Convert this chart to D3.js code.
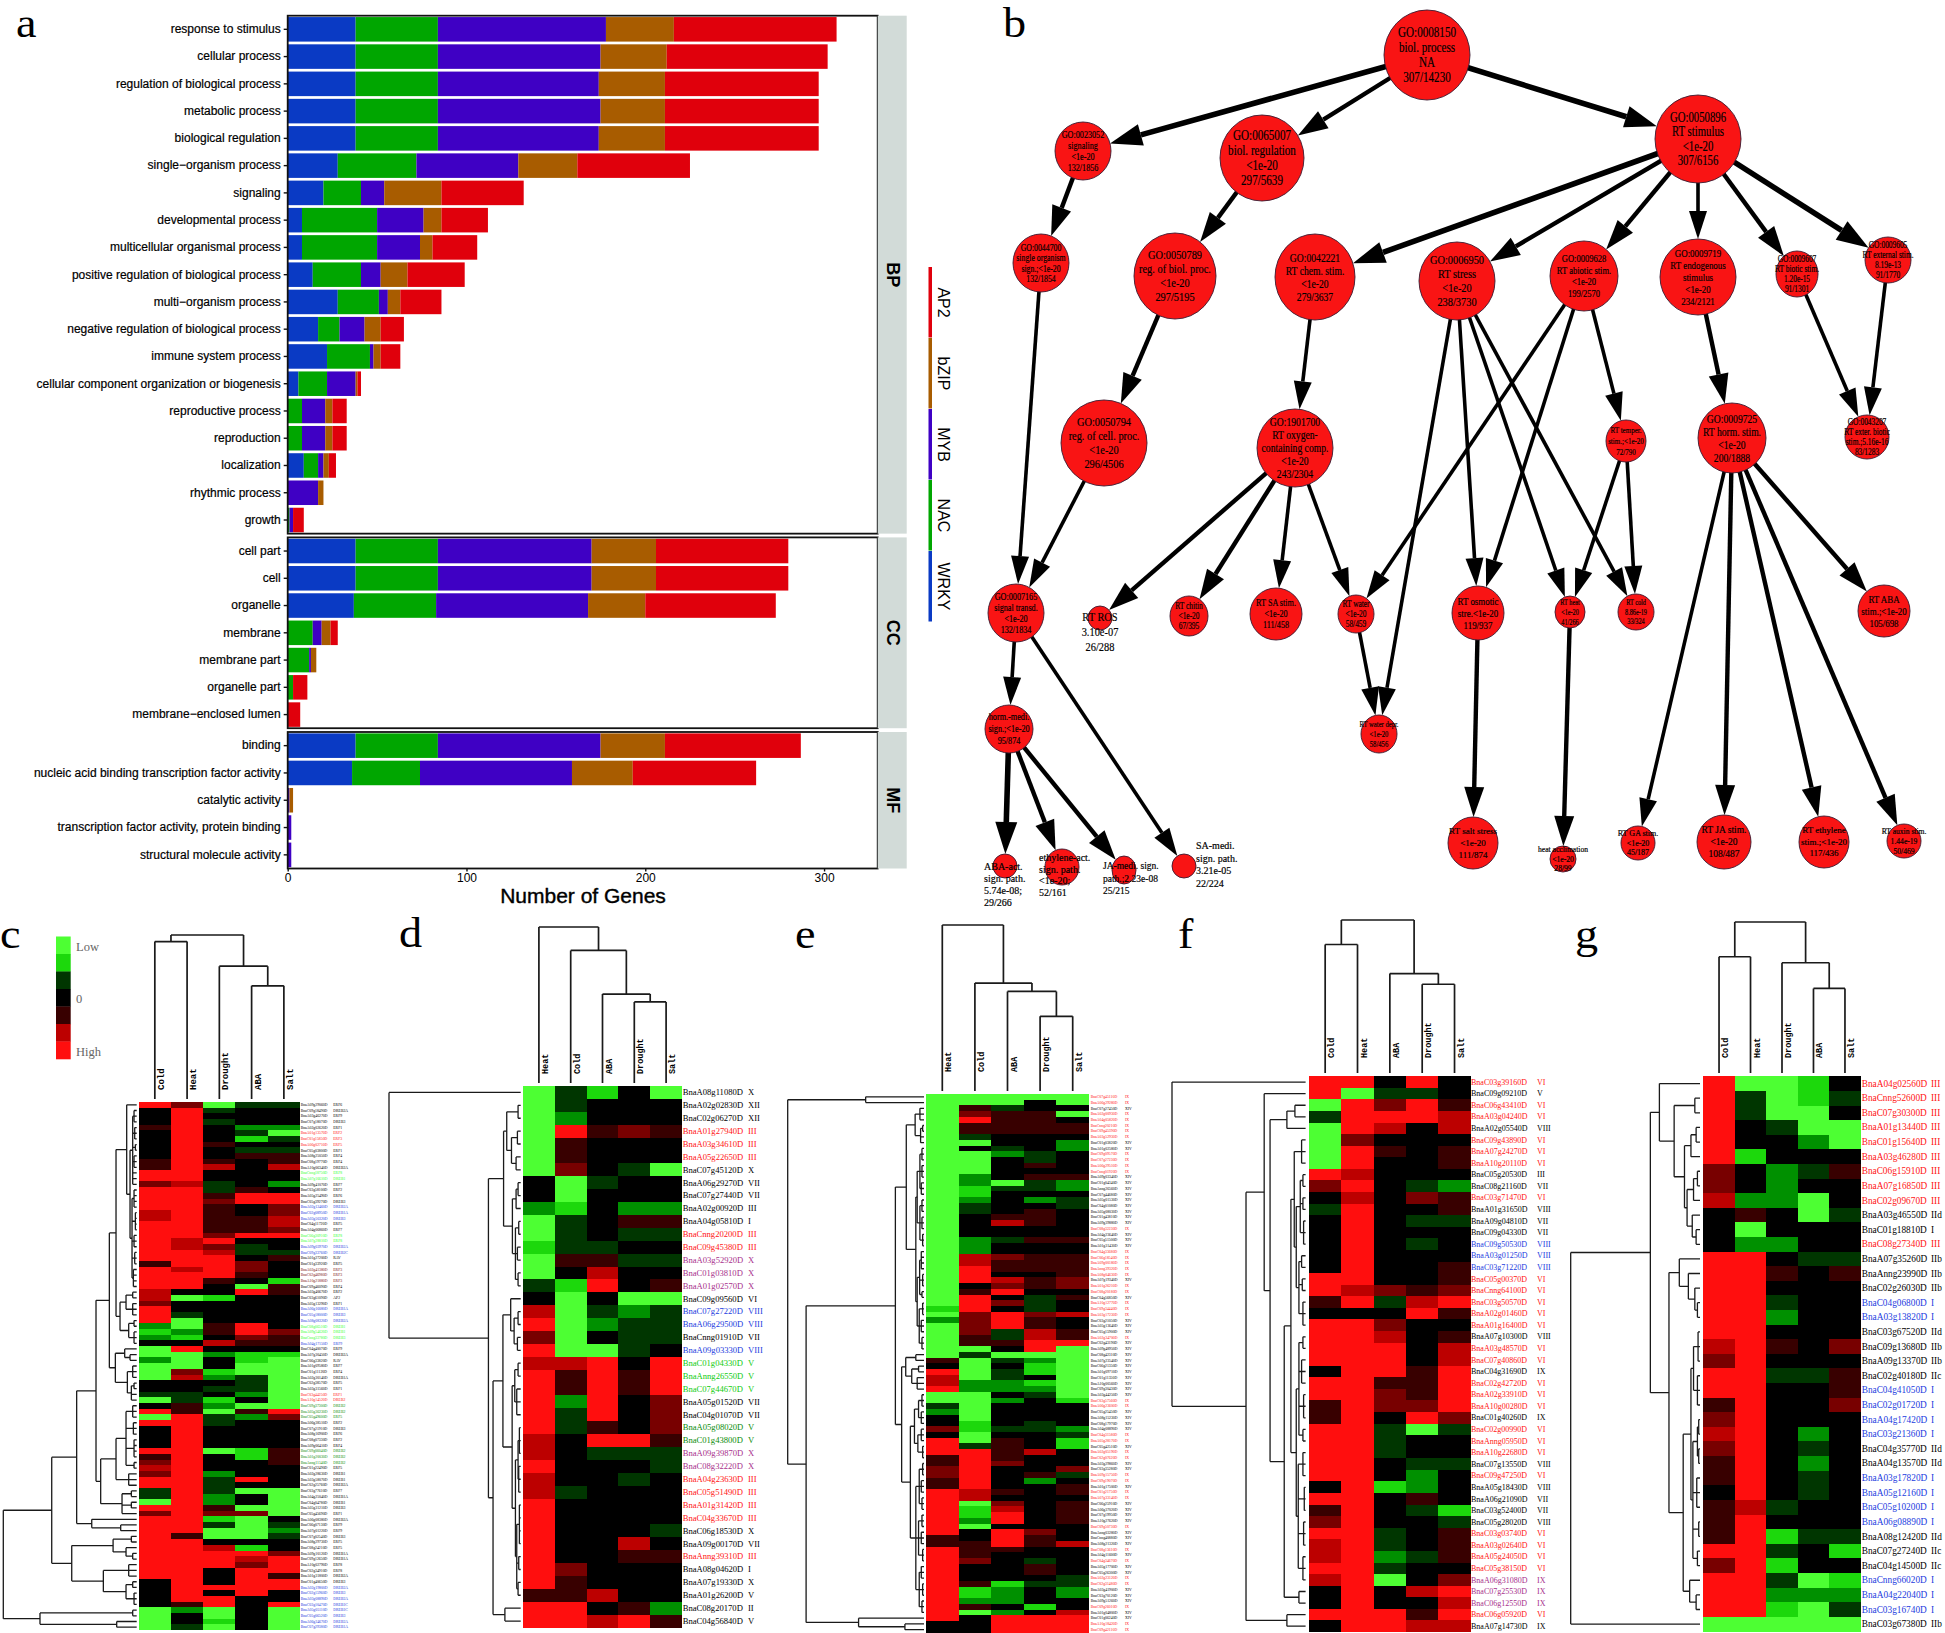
<!DOCTYPE html>
<html>
<head>
<meta charset="utf-8">
<script src="https://cdnjs.cloudflare.com/ajax/libs/d3/7.8.5/d3.min.js"></script>
<style>
  body { margin: 0; background: #fff; }
  svg { display: block; }
  .serif { font-family: "Liberation Serif", serif; }
  .sans { font-family: "Liberation Sans", sans-serif; }
  .mono { font-family: "Liberation Mono", monospace; font-weight: bold; }
</style>
</head>
<body>
<svg id="fig" width="1945" height="1633"></svg>
<script>
// ---- panel a values ----
const categories = ['response to stimulus','cellular process','regulation of biological process','metabolic process','biological regulation','single\u2212organism process','signaling','developmental process','multicellular organismal process','positive regulation of biological process','multi\u2212organism process','negative regulation of biological process','immune system process','cellular component organization or biogenesis','reproductive process','reproduction','localization','rhythmic process','growth','cell part','cell','organelle','membrane','membrane part','organelle part','membrane\u2212enclosed lumen','binding','nucleic acid binding transcription factor activity','catalytic activity','transcription factor activity, protein binding','structural molecule activity']
const facetNames = ['BP','CC','MF']
const facetSizes = [19,7,5]
const WRKY = [38,38,38,38,38,28,20,8,8,14,28,17,22,6,0,0,9,0,0, 38,38,37,0,0,0,0, 38,36,0,0,0]
const NAC = [46,46,46,46,46,44,21,42,42,27,23,12,24,16,8,8,8,0,1, 46,46,46,14,12,3,0, 46,38,0,0,0]
const MYB = [94,91,90,91,90,57,13,26,24,11,5,14,2,16,13,13,3,17,2, 86,86,85,5,1,0,0, 91,85,1,2,2]
const bZIP = [38,37,37,36,37,33,32,10,7,15,7,9,4,1,4,4,3,3,0, 36,36,32,5,3,0,0, 36,34,2,0,0]
const AP2 = [91,90,86,86,86,63,46,26,25,32,23,13,11,2,8,8,4,0,6, 74,74,73,4,0,8,7, 76,69,0,0,0]
const familyNames = ['WRKY','NAC','MYB','bZIP','AP2']
const xTicks = [0,100,200,300]

// ---- panel b values ----
const goLabels = {
  n8150:'GO:0008150|biol. process|NA|307/14230', n23052:'GO:0023052|signaling|<1e-20|132/1856',
  n65007:'GO:0065007|biol. regulation|<1e-20|297/5639', n50896:'GO:0050896|RT stimulus|<1e-20|307/6156',
  n44700:'GO:0044700|single organism|sign.;<1e-20|132/1854', n50789:'GO:0050789|reg. of biol. proc.|<1e-20|297/5195',
  n42221:'GO:0042221|RT chem. stim.|<1e-20|279/3637', n6950:'GO:0006950|RT stress|<1e-20|238/3730',
  n9628:'GO:0009628|RT abiotic stim.|<1e-20|199/2570', n9719:'GO:0009719|RT endogenous|stimulus|<1e-20|234/2121',
  n9607:'GO:0009607|RT biotic stim.|1.20e-15|91/1301', n9605:'GO:0009605|RT external stim.|8.19e-13|91/1770',
  n50794:'GO:0050794|reg. of cell. proc.|<1e-20|296/4506', n1901700:'GO:1901700|RT oxygen-|containing comp.|<1e-20|243/2304',
  nTemper:'RT temper.|stim.;<1e-20|72/790', n9725:'GO:0009725|RT horm. stim.|<1e-20|200/1888',
  n43207:'GO:0043207|RT exter. biotic|stim.;5.16e-16|83/1283', n7165:'GO:0007165|signal transd.|<1e-20|132/1834',
  nROS:'RT ROS|3.10e-07|26/288', nChitin:'RT chitin|<1e-20|67/395', nSA:'RT SA stim.|<1e-20|111/458',
  nWater:'RT water|<1e-20|58/459', nOsmotic:'RT osmotic|stre.<1e-20|119/937', nHeat:'RT heat|<1e-20|41/266',
  nCold:'RT cold|8.86e-19|33/324', nABA:'RT ABA|stim.;<1e-20|105/698', nHorm:'horm.-medi.|sign.;<1e-20|95/874',
  nDepr:'RT water depr.|<1e-20|58/456', nABAact:'ABA-act.|sign. path.|5.74e-08;|29/266',
  nEthAct:'ethylene-act.|sign. path.|<1e-20;|52/161', nJA:'JA-medi. sign.|path.;2.23e-08|25/215',
  nSAmedi:'SA-medi.|sign. path.|3.21e-05|22/224', nSalt:'RT salt stress|<1e-20|111/874',
  nAccl:'heat acclimation|<1e-20|28/99', nGA:'RT GA stim.|<1e-20|45/187', nJAs:'RT JA stim.|<1e-20|108/487',
  nEthS:'RT ethylene|stim.;<1e-20|117/436', nAuxin:'RT auxin stim.|1.44e-19|50/469'
}
const goEdges = [
  ['n8150','n23052',2],['n8150','n65007',1],['n8150','n50896',2],['n23052','n44700',1],['n65007','n50789',1],
  ['n50896','n42221',2],['n50896','n6950',1],['n50896','n9628',1],['n50896','n9719',0],['n50896','n9607',1],['n50896','n9605',2],
  ['n44700','n7165',0],['n50789','n50794',1],['n42221','n1901700',0],['n6950','nDepr',0],['n6950','nOsmotic',0],['n6950','nHeat',0],['n6950','nCold',0],
  ['n9628','nWater',0],['n9628','nOsmotic',0],['n9628','nTemper',0],['nTemper','nHeat',0],['nTemper','nCold',0],
  ['n9719','n9725',1],['n9607','n43207',0],['n9605','n43207',0],['n50794','n7165',0],
  ['n1901700','nROS',1],['n1901700','nChitin',1],['n1901700','nSA',0],['n1901700','nWater',0],['nWater','nDepr',0],
  ['n7165','nHorm',0],['n7165','nSAmedi',0],['nHorm','nABAact',2],['nHorm','nEthAct',1],['nHorm','nJA',1],
  ['nOsmotic','nSalt',1],['nHeat','nAccl',1],['n9725','nABA',1],['n9725','nGA',0],['n9725','nJAs',1],['n9725','nEthS',1],['n9725','nAuxin',1]
]

// ---- heat map values: one digit per cell, 0 = low, 4 = zero, 8 = high ----
const cColumns = ['Cold','Heat','Drought','ABA','Salt']
const cByColumn = [
  '8 444 5 44444 5 5 88 6 8888 77 8888888 5 8888 77 6 888 2 1 2 4 00 2 000 44 3 0 4 8 0 8 4444 8 5 6 7 6 88 3 3 0 8 6 88888888888 4444 4 0000',
  '6 8888888888888 7 888888888 77 88 8 7 888 4 0 44 3 00 2 1 4 8 000 6 7 44 33 55 888888888888888888888 5 88888888888 5 2 44 3',
  '0 3 4 3 444 5 445 7 44 3 3 5 6 555 55 6 8 6 7 88 88 5 44 1 4444 55 4 7 4 2 44 1 2 4 3 4 1 2 0 334444 0 444 2 33 3 2 2 5 6 1 3 00 4 7 8 88 444 8 4 88 00 1 0',
  '3 444 2 3 1 4 3 5 44444 5 88 44 555 8 4 33 4 66 5 4 0 8 44444 88 6 5 4 11 00 333 2 4 0 5 2 44444 11 444 8 4 0 44 0 6 0000 4 1 8 7 6 88888 4 44444',
  '3 444 2 0 3 4 3 5 5 7 44 2 4 88 66 77 6 8 44 3 5 444 1 55 444444 6 5 5 4 1 000000000 8 6 44444 555 4444 00000 4 3 2 3 44 6 888 5 88 44 8 0000'
]
const cGenes = `A09g29060 ERF6,C09g18490 DREB2A,A03g46270 ERF9,C07g18070 DREB3,A02g02620 ERF1,A01g13570 ERF2,C01g15850 ERF3,A06g02710 ERF5,C05g03800 ERF1,A08g25050 ERF4,
C08g19770 ERF4,A10g06340 DREB2A,Cnng18750 ERF8,A07g16610 DREB1,A09g41070 ERF7,C03g58100 ERF2,A05g25490 ERF6,C05g39270 DREB3,A02g12460 DREB2A,C02g08950 DREB1A,
A03g50320 DREB3,C04g11720 ERF5,A04g06860 ERF7,C06g30910 ERF8,A07g28810 ERF8,A09g03970 DREB2A,C09g33760 DREB2C,A01g27200 RAV,C01g33920 ERF5,A02g41380 ERF3,
C02g46980 ERF3,A10g21880 ERF3,C09g46090 ERF4,A03g40670 ERF2,C03g61090 AP2,A05g13290 ERF1,A06g16080 DREB1A,C05g18000 DREB3,A08g08320 DREB2A,C08g06510 DREB1,
A09g54620 DREB1,Cnng33780 DREB3,A04g17150 ERF9,C04g40070 ERF9,A07g30450 DREB2A,C06g33820 RAV,A01g09580 ERF7,C01g11120 ERF4,A02g30140 DREB1A,C02g38570 ERF5,
A03g31560 ERF1,C03g44250 ERF1,A10g14520 DREB2,C09g37300 DREB2,A05g36230 DREB2,C05g49600 ERF5,A06g38510 ERF2,C07g21910 DREB3,A08g16900 ERF6,C08g07330 ERF2,
A09g06410 ERF4,C09g06040 DREB2,A01g20030 DREB2,Anng11540 DREB2,C01g22490 ERF5,A02g28630 DREB1,A03g58070 DREB1,C02g25760 DREB2A,C03g77610 ERF7,A04g25040 DREB1A,
C04g04780 DREB1,A05g31210 DREB3,C05g45690 ERF1,A06g08380 DREB2A,C06g07130 ERF9,A07g01220 ERF9,C07g02540 DREB3,A08g29730 ERF5,C08g24210 ERF5,A09g10120 DREB1A,
C09g12650 DREB1A,A10g02790 ERF8,C02g34910 ERF8,A01g31800 DREB2A,C01g40650 DREB3,A02g19800 DREB2A,C02g15960 DREB3,A03g08890 DREB2A,C03g10470 DREB1C,A05g05110 DREB1C,
C05g06520 DREB3,A06g34670 DREB2A,C07g29380 DREB1A`.split(/,\s*/)
const cTones = `kkkkk rrr kkkk ll kkkk bbb kk ll bb kk nnn kkkk bbb lll b kkkkkkkk rr ddd kkkkk ddd kkkkkkkkkkkkkkkkkkkkk bbbbbbbb`
const cRowTree = [100,[63.7,[45,[30.5,[20.5,[15.5,[7.5,1,[5,[3,[2,3],[1.5,3],[1,2],[2,3],3],[3.5,[2,4],[1,4],[2,3],[1.5,3],[2.5,4]]]],[12.5,[8,[3,2],[3,3]],[6,[2,2],[2,3]]]],[16,[9,1,[5,2]],[7,[3,3],[4,[2,2],2]]]],[27,[15.5,[8,[3,3],[2.5,3],[2,4],[2,2]],[6,3]],[11,[4,2],[4,2],1]]],[33.7,1,[12,2]]],[48.7,[17.7,[4,2],[8,1,[3,2]]],[25,[6,3],[8,[3,2],[2,3]]]]],[72.5,[3,2],[15,1,1]]]
const cColTree = [100,[96,1,1],[81,1,[69,1,1]]]

const dColumns = ['Heat','Cold','ABA','Drought','Salt']
const dByRow = ['03140','03444','02444','08565','05444','05444','06430','40344','40444','21422','03455','03433','13344','05533','04744','31845','40400','70323','80233','60433','80034','77848','85858','85858','82846','83846','83546','74885','74333','84443','74434','73444','84444','84444','84443','84474','84455','86444','85444','55744','88452','88785']
const dGenes = `A08g11080 X,A02g02830 XII,C02g06270 XII,A01g27940 III,A03g34610 III,A05g22650 III,C07g45120 X,A06g29270 VII,C07g27440 VII,A02g00920 III,A04g05810 I,Cnng20200 III,C09g45380 III,A03g52920 X,C01g03810 X,A01g02570 X,C09g09560 VI,C07g27220 VIII,A06g29500 VIII,Cnng01910 VII,A09g03330 VIII,C01g04330 V,Anng26550 V,C07g44670 V,A05g01520 VII,C04g01070 VII,A05g08020 V,C01g43800 V,A09g39870 X,C08g32220 X,A04g23630 III,C05g51490 III,A01g31420 III,C04g33670 III,C06g18530 X,A09g00170 VII,Anng39310 III,A08g04620 I,A07g19330 X,A01g26200 V,C08g20170 II,C04g56840 V`.split(',')
const dTones = 'kkkrrrkkkkkrrpppkbbkbgggkkddpprrrrkkrkkkkk'
const dRowTree = [100,1,[24.5,[13,[10.6,[2,2],[7,[2.5,2],[3.5,2]]],[6.3,[3.5,[2,2],1],[4,[1.5,2],[2.5,2],[2,2]]]],[21,[13.5,[7.6,1,[5,[2,2],[2.5,2]]],[6.5,[4.5,[2,2],[3,3]],[4,[2,[1,3],[1.5,3]],[3,[1,4],[1.5,2],[2,2]]]]],[12,2]]]]
const dColTree = [100,1,[85,1,[57,1,[52,1,1]]]]

const eColumns = ['Heat','Cold','ABA','Drought','Salt']
const eByColumn = [
  '0000000000000000000000000000000000000 1 0 2 000000 5 4 8 77 8 00 3 2 44 6 4 888 55 66 55 88888888 55 8888888888888 44',
  '00 56 8 55 3 0 4 0000 22 11 2 33 4444 222 77 888 4 5 888 66 6655 0 3 0000 22 000001100 3 8888888 77 011 2 0 44 555 6 444 5 11 2 5 0 444',
  '00 3 5555 443 2 444 4 0 3 4444 5 7 44 3 44 6 55 4 7 6 8 4 6 4 888 33 5 4 0 3 4 33 22 4 2 4444 3 4 55 55 6 4444 5 4 6 7 88 4 888 5 44444 1 222 4 2 888',
  '0 44 5555 444 33 5 4 5 33 4 2 4 5 55 44 5 44 555 4 55 4 333 6 55 77 88 0 2 11 4 1 2 3 4 444 33 444 7 444 5 2 44444444 6 55 44 3 55 4 3 444 1 4 888',
  '00 4 0 4 55 4 22 44 44 5 22 4 33 44444 5 44 555 5 66 4 5 44 7 44 55 8 000000000 1 4444 2 3 11 444 6 3 4 55 4 5555 444 7 44444 33 22 44 7 888'
]
const eGenes = `C07g45110,A06g29280,C07g27450,A02g00930,A04g05820,Cnng20210,C09g45390,A03g52930,C01g03820,A01g02580,
C09g09570,C07g27230,A06g29510,Cnng01920,A09g03340,C01g04340,Anng26560,C07g44680,A05g01530,C04g01080,
A05g08030,C01g43810,A09g39880,C08g32230,A04g23640,C05g51500,A01g31430,C04g33680,C06g18540,A09g00180,
Anng39320,A08g04630,A07g19340,A01g26210,C08g20180,C04g56850,A10g12770,C09g34440,A03g17230,C03g21050,
A05g13640,C05g15900,A02g34700,C02g43190,A09g48950,C08g42310,A07g23540,C06g21350,A01g09710,C01g11350,
A10g00560,C09g30430,A03g44250,C03g57560,A06g23600,C05g25450,A08g15230,C08g17970,A04g08890,C04g31580,
A05g28170,C05g42510,A02g05190,C02g07620,A03g29860,C03g35280,A09g15750,C09g19070,A01g17500,C01g21750,
A07g33140,C06g25910,A06g37020,C07g19950,A10g27620,C09g50730,Anng03280,Cnng40880,A08g21320,C08g13610,
A04g11600,C04g34670,A05g17700,C05g26300,A02g23120,C02g31480,A03g41900,C03g70120,A09g51260,C09g26010,
A01g04800,C01g06240,A10g18420,C09g42110`.split(/,\s*/)
const eTones = `rr k rrrrr kk rrrr kkkkkkkkk r kkk rrrrr k rr k rrr kkk r kkkkkkkkkk rr kkkk rr k rr kk rr k rr kkkk r kkk r k r kk rr kkk r kk rr`
const eClass = { r: 'IX', k: 'XIV' }
const eRowTree = [100,[42.8,2],[86.5,[21,[13,[6.5,[3,3],[2.5,[1,2],2]],[6,[5,[3,[1.5,3],[1.5,3],[2,3]],[3,[1.5,3],[1.5,3],[1,3]]],[5,[3.2,[2,4],[1,3],[1.5,2]],[3.5,[1,3],[2,3],[1.5,3]]]]],[16.4,[13.4,[6,2],[9,[4,2],[5,3]]],[10,[7,[4,[1.5,3],[2,3]],[4.5,[2,3],[1,3]]],[6,[3.5,[1,3],[2,3],[1.5,3]],[4,[1.5,3],[2,3],[1,3]],[3.5,[2,3],[1,3],[1.5,3]]]]]],[48,1,[14,2]]]]
const eColTree = [100,1,[65,1,[60,1,[45,1,1]]]]

const fColumns = ['Cold','Heat','ABA','Drought','Salt']
const fByColumn = [
  '88 0 3 0000 8 6 4 3 44444 88 5 4 8888 4 88 55 88888 4 8 5 6 8 77 8 7 44 8 4',
  '8 0 888 6 88 7 8 7 8 888888 7 8 4 888888888888888888888888888',
  '4 3 6 8 7 4 5 44444444444 6 3 4 6 7 8 8 8 5 6 6 4 3 3 3 4 4 1 4 4 4 3 3 2 3 0 4 4 8 8',
  '8 3 8 8 4 4444 3 6 4 3 4 3 444 5 7 8 4444 5 5 5 6 8 0 4 4 3 2 2 5 3 4 4 4 3 4 4 7 4 5 7',
  '4 4 5 7 7 4 5 5 4 2 5 5 3 4 4 4 5 5 6 8 5 4 5 7 7 8 8 8 8 6 3 4 4 3 4 4 4 1 3 5 5 5 4 6 8 7 8 7'
]
const fGenes = `C03g39160 VI,C09g09210 V,C06g43410 VI,A03g04240 VI,A02g05540 VIII,C09g43890 VI,A07g24270 VI,A10g20110 VI,C05g20530 III,C08g21160 VII,C03g71470 VI,A01g31650 VIII,A09g04810 VII,C09g04330 VII,C09g50530 VIII,A03g01250 VIII,C03g71220 VIII,C05g00370 VI,Cnng64100 VI,C03g50570 VI,A02g01460 VI,A01g16400 VI,A07g10300 VIII,A03g48570 VI,C07g40860 VI,C04g31690 IX,C02g42720 VI,A02g33910 VI,A10g00280 VI,C01g40260 IX,C02g00990 VI,Anng05950 VI,A10g22680 VI,C07g13550 VIII,C09g47250 VI,A05g18430 VIII,A06g21090 VII,C03g52400 VII,C05g28020 VIII,C03g03740 VI,A03g02640 VI,A05g24050 VI,C05g38150 VI,A06g31080 IX,C07g25530 IX,C06g12550 IX,C06g05920 VI,A07g14730 IX`.split(',')
const fTones = 'rkrrkrrrkkrkkkbbbrrrrrkrrkrrrkrrrkrkkkkrrrrppprk'
const fRowTree = [100,1,[44.6,[31,1,[26.6,[14,[8,2],1],[16,[11,[8.5,[3,3],[7,[4,[2,2],[2,2],[1.5,3]],[5,[3,2],[2.5,2],[2,3]]]],[7,[5,[2,2],[3,3],[1.5,3],[2,2]],[5.5,[2,3],[1,3],[1.5,3],[2,3]]]],[5,2]]]],[14,2]]]
const fColTree = [100,[84,1,1],[65,1,[58,1,1]]]

const gColumns = ['Cold','Heat','Drought','ABA','Salt']
const gByRow = ['80014','83013','83004','84300','84420','81444','64235','64244','72204','45403','40444','42244','88433','88545','88444','88344','88244','88444','78546','68444','88335','88445','58446','68444','78424','68434','58424','58434','48434','57344','58444','58133','88341','68144','88301','88222','88103','00000']
const gGenes = `A04g02560 III,Cnng52600 III,C07g30300 III,A01g13440 III,C01g15640 III,A03g46280 III,C06g15910 III,A07g16850 III,C02g09670 III,A03g46550 IId,C01g18810 I,C08g27340 III,A07g35260 IIb,Anng23990 IIb,C02g26030 IIb,C04g06800 I,A03g13820 I,C03g67520 IId,C09g13680 IIb,A09g13370 IIb,C02g40180 IIc,C04g41050 I,C02g01720 I,A04g17420 I,C03g21360 I,C04g35770 IId,A04g13570 IId,A03g17820 I,A05g12160 I,C05g10200 I,A06g08890 I,A08g12420 IId,C07g27240 IIc,C04g14500 IIc,Cnng66020 I,A04g22040 I,C03g16740 I,C03g67380 IIb`.split(',')
const gTones = 'rrrrrrrrrkkrkkkbbkkkkbbbbkkbbbbkkkbbbk'
const gRowTree = [100,[38.4,[31.4,1,[20,[4,2],[12,[7,[3,2],1],[10,[5,[2,2],1],[6,1,[3,2]]]]]],[24,[16,1,[9,1,[4,1,[2,2]]]],[13,[7,[5,[1.5,3],[2,3]],[5.5,[2,[1,2],[1,2]],[2.5,3],[1,2],[2,2]]],[8,1,[3,2]]]]],1]
const gColTree = [100,[77,1,1],[73,1,[56,1,1]]]

const legendLevels = [0,1,3,4,5,7,8]
const legendText = ['Low','0','High']

// ---- drawing ----
const svg = d3.select('#fig')
const panelLetters = [['a',16,37],['b',1003,37],['c',0,948],['d',399,947],['e',795,948],['f',1178,948],['g',1575,948]]
svg.selectAll('.letter').data(panelLetters).enter().append('text')
  .attr('class','letter serif').attr('font-size',42)
  .attr('transform',d => `translate(${d[1]},${d[2]}) scale(1.1,1)`).text(d => d[0])

// panel a: stacked bars in three facets
const familyColor = d3.scaleOrdinal(familyNames, ['#0a3ac4','#00a600','#3f00c4','#a85c00','#e0000c'])
const barX = d3.scaleLinear().domain([0,330]).range([287.7,877.7])
const facetTops = [15.7,537.4,732]
const rowPitch = [27.26,27.26,27.3]
const rows = categories.map((c,i) => ({c,WRKY:WRKY[i],NAC:NAC[i],MYB:MYB[i],bZIP:bZIP[i],AP2:AP2[i]}))
const stacked = d3.stack().keys(familyNames)(rows)
let first = 0
facetNames.forEach((name,fi) => {
  const n = facetSizes[fi]
  const idx = d3.range(first, first+n)
  const y = d3.scaleBand().domain(idx).range([facetTops[fi], facetTops[fi]+n*rowPitch[fi]]).paddingInner(0.1).paddingOuter(0.05)
  const g = svg.append('g')
  stacked.forEach(s => {
    g.append('g').attr('fill',familyColor(s.key)).selectAll('rect').data(idx).enter().append('rect')
      .attr('x',i => barX(s[i][0])).attr('width',i => barX(s[i][1])-barX(s[i][0]))
      .attr('y',i => y(i)).attr('height',y.bandwidth())
  })
  const [y0,y1] = y.range()
  g.append('rect').attr('x',barX.range()[0]).attr('y',y0).attr('width',barX.range()[1]-barX.range()[0]).attr('height',y1-y0)
    .attr('fill','none').attr('stroke','#111').attr('stroke-width',1.8)
  g.append('rect').attr('x',barX.range()[1]).attr('y',y0).attr('width',29).attr('height',y1-y0).attr('fill','#d2dbd8')
  g.append('text').attr('class','sans').attr('font-weight','bold').attr('font-size',18)
    .attr('transform',`translate(${barX.range()[1]+9},${(y0+y1)/2}) rotate(90)`).attr('text-anchor','middle').text(name)
  const axis = g.append('g').attr('transform',`translate(${barX.range()[0]},0)`)
    .call(d3.axisLeft(y).tickSize(4).tickPadding(3).tickFormat(i => categories[i]))
  axis.select('.domain').remove()
  axis.selectAll('line').attr('stroke','#111').attr('stroke-width',1.4)
  axis.selectAll('text').attr('class','sans').attr('font-size',12).attr('fill','#000').attr('stroke','#000').attr('stroke-width',0.2)
  if (fi === 2) {
    const xAxis = g.append('g').attr('transform',`translate(0,${y1})`)
      .call(d3.axisBottom(barX).tickValues(xTicks).tickSize(3).tickPadding(2))
    xAxis.select('.domain').remove()
    xAxis.selectAll('line').attr('stroke','#111').attr('stroke-width',1.4)
    xAxis.selectAll('text').attr('class','sans').attr('font-size',12).attr('fill','#000')
    g.append('text').attr('class','sans').attr('x',583).attr('y',y1+34).attr('text-anchor','middle')
      .attr('font-size',21).attr('stroke','#000').attr('stroke-width',0.4).text('Number of Genes')
  }
  first += n
})
const legendY = d3.scaleBand().domain(familyNames.slice().reverse()).range([267,622])
familyNames.forEach(f => {
  svg.append('rect').attr('x',928.5).attr('width',3.5).attr('y',legendY(f)).attr('height',legendY.bandwidth()-0.5).attr('fill',familyColor(f))
  svg.append('text').attr('class','sans').attr('font-size',16).attr('text-anchor','middle')
    .attr('transform',`translate(938,${legendY(f)+legendY.bandwidth()/2}) rotate(90)`).text(f)
})

// panel b: GO graph, node places come from a layered layout table
// key: [x, y, rx, ry, line pitch, font size, x squeeze]
const nodeLayout = {
  n8150:[427,15,43,45,15], n23052:[83,111,28,29,11], n65007:[262,118,42,43,15], n50896:[698,99,43,44,14.5],
  n44700:[41,223,28,29,10.5], n50789:[175,236,41,43,14], n42221:[315,237,40,43,13], n6950:[457,241,38,39,14],
  n9628:[584,236,34,35,11.5], n9719:[698,237,38,38,12], n9607:[797,234,21,23,10], n9605:[888,220,23,23,10],
  n50794:[104,403,43,43,14], n1901700:[295,408,38,39,13], nTemper:[626,401,20,21,11,9], n9725:[732,398,34,35,13],
  n43207:[867,397,22,22,10], n7165:[16,573,28,29,11], nChitin:[189,576,19,20,10], nSA:[276,574,26,26,11],
  nWater:[356,574,18,19,10], nOsmotic:[478,573,26,27,12], nHeat:[570,572,15,16,10,8], nCold:[636,572,18,18,9.5,8],
  nABA:[884,571,26,26,12], nHorm:[9,689,24,24,12,10.5], nDepr:[379,694,18,19,10,8.5],
  nSalt:[473,803,25,26,12,9,1], nAccl:[563,819,13,13,9.5,7.6,1], nGA:[638,803,17,17,9.5,8,1], nJAs:[724,802,27,27,12,9.5,1],
  nEthS:[824,802,25,26,11.5,9,1], nAuxin:[904,801,17,17,10,7.6,1],
  nROS:[100,578,12,12], nABAact:[5,826,12,12], nEthAct:[62,827,17,18], nJA:[124,830,12,14], nSAmedi:[184,826,12,12]
}
// labels that sit beside their node: [x, first baseline y, pitch, font size, squeeze, anchor]
const outsideLabels = {
  nROS:[100,581,15,13,0.8,'middle'], nABAact:[-16,830,12,10,1,'start'], nEthAct:[39,821,11.5,10,1,'start'],
  nJA:[103,829,12.5,9.5,1,'start'], nSAmedi:[196,809,12.5,10,1,'start']
}
const gx = d3.scaleLinear().domain([0,920]).range([1000,1920])
const gy = d3.scaleLinear().domain([0,830]).range([40,870])
const edgeWidth = d3.scaleOrdinal([0,1,2],[3.6,4.4,5.6])
const edgeLayer = svg.append('g')
const bound = (p,q) => {
  const dx = gx(q[0])-gx(p[0]), dy = gy(q[1])-gy(p[1])
  const t = 1/Math.sqrt((dx/q[2])**2+(dy/q[3])**2)
  return {x:gx(q[0])-dx*t, y:gy(q[1])-dy*t, ux:dx*t/Math.hypot(dx*t,dy*t), uy:dy*t/Math.hypot(dx*t,dy*t)}
}
goEdges.forEach(([a,b,w]) => {
  const s = nodeLayout[a], t = nodeLayout[b]
  const end = bound(s,t)
  const len = 28+w*2, half = 9+w
  const bx = end.x-end.ux*len, by = end.y-end.uy*len
  edgeLayer.append('line').attr('x1',gx(s[0])).attr('y1',gy(s[1])).attr('x2',bx).attr('y2',by)
    .attr('stroke','#000').attr('stroke-width',edgeWidth(w))
  edgeLayer.append('polygon').attr('fill','#000')
    .attr('points',[[end.x,end.y],[bx-end.uy*half,by+end.ux*half],[bx+end.uy*half,by-end.ux*half]].join(' '))
})
const nodeLayer = svg.append('g')
Object.entries(nodeLayout).forEach(([k,n]) => {
  nodeLayer.append('ellipse').attr('cx',gx(n[0])).attr('cy',gy(n[1])).attr('rx',n[2]).attr('ry',n[3])
    .attr('fill','#f91414').attr('stroke','#3a1a30').attr('stroke-width',0.9)
})
const nodeText = (line,fs,anchor,x,y,sx) => nodeLayer.append('text').attr('class','serif').attr('font-size',fs)
  .attr('text-anchor',anchor).attr('stroke','#000').attr('stroke-width',0.18)
  .attr('transform',`translate(${x},${y}) scale(${sx},1)`).text(line)
Object.entries(nodeLayout).forEach(([k,n]) => {
  const lines = goLabels[k].split('|')
  const out = outsideLabels[k]
  if (out) {
    lines.forEach((l,i) => nodeText(l,out[3],out[5],gx(out[0]),gy(out[1])+i*out[2],out[4]))
    return
  }
  const pitch = n[4], fs = n[5] || pitch*0.95, sx = n[6] || 0.78
  lines.forEach((l,i) => nodeText(l,fs,'middle',gx(n[0]),gy(n[1])+(i-(lines.length-1)/2)*pitch+fs*0.33,sx))
})

// panels c-g: dendrograms and heat maps
const heatColor = d3.scaleLinear().domain([0,1,2,3,4,5,6,7,8])
  .range(['#4dff33','#1cd80c','#009000','#003600','#000','#380000','#780000','#bc0000','#ff0e0e'])
const toneColor = { k:'#000', r:'#ff1414', b:'#1c3ce0', g:'#10cc10', d:'#0a8c0a', p:'#a8308c', n:'#7a0e0e', l:'#33ff33' }
const strip = s => s.replace(/\s/g,'')
const fromColumns = cols => { const c = cols.map(strip); return d3.range(c[0].length).map(i => c.map(s => +s[i])) }
const fromRows = rows => rows.map(r => r.split('').map(Number))
const expand = t => typeof t === 'number' ? d3.range(t).map(() => ({h:0})) : [{h:t[0],children:t.slice(1).flatMap(expand)}]

function drawTree(layer, tree, pos, height, horizontal) {
  const root = d3.hierarchy(expand(tree)[0])
  root.leaves().forEach((l,i) => { l.pos = pos(i) })
  root.eachAfter(n => { if (n.children) n.pos = (n.children[0].pos+n.children[n.children.length-1].pos)/2 })
  root.each(n => {
    if (!n.children) return
    const a = n.children[0].pos, b = n.children[n.children.length-1].pos, hh = height(n.data.h)
    const spine = horizontal ? `M${hh},${a}V${b}` : `M${a},${hh}H${b}`
    const arms = n.children.map(c => horizontal ? `M${hh},${c.pos}H${height(c.data.h)}` : `M${c.pos},${hh}V${height(c.data.h)}`).join('')
    layer.append('path').attr('d',spine+arms)
  })
}

function drawHeat(p) {
  const g = svg.append('g')
  const n = p.cells.length
  const cx = d3.scaleBand().domain(d3.range(5)).range([p.x0,p.x1])
  const cy = d3.scaleBand().domain(d3.range(n)).range([p.y0,p.y1])
  p.cells.forEach((row,i) => row.forEach((v,j) => {
    g.append('rect').attr('x',cx(j)).attr('y',cy(i)).attr('width',cx.bandwidth()+0.4).attr('height',cy.bandwidth()+0.4)
      .attr('fill',heatColor(v)).attr('shape-rendering','crispEdges')
  }))
  const lines = g.append('g').attr('fill','none').attr('stroke','#1a1a1a')
  drawTree(lines.append('g').attr('stroke-width',p.rowStroke || 1.3), p.rowTree, i => cy(i)+cy.bandwidth()/2,
    d3.scaleLinear().domain([0,100]).range([p.tip,p.rootX]), true)
  drawTree(lines.append('g').attr('stroke-width',1.7), p.colTree, i => cx(i)+cx.bandwidth()/2,
    d3.scaleLinear().domain([0,100]).range([p.stemBottom,p.rootY]), false)
  p.columns.forEach((c,j) => {
    g.append('text').attr('class','mono').attr('font-size',p.colFont)
      .attr('transform',`translate(${cx(j)+cx.bandwidth()/2+9},${p.colLabelY}) rotate(-90)`).text(c)
  })
  const tones = strip(p.tones)
  p.genes.forEach((t,i) => {
    const [name,cls] = t.split(' ')
    const fill = toneColor[tones[i]]
    const y = cy(i)+cy.bandwidth()/2+p.font*0.33
    g.append('text').attr('class','serif').attr('x',p.labelX).attr('y',y).attr('font-size',p.font).attr('fill',fill).text('Bna'+name+'D')
    g.append('text').attr('class','serif').attr('x',p.classX).attr('y',y).attr('font-size',p.font).attr('fill',fill).text(cls)
  })
}

drawHeat({cells:fromColumns(cByColumn),columns:cColumns,genes:cGenes,tones:cTones,rowTree:cRowTree,colTree:cColTree,
  x0:138.7,x1:300,y0:1102,y1:1630,tip:136.7,rootX:3.3,stemBottom:1099,rootY:935,colLabelY:1090,colFont:9,
  labelX:300.7,classX:333.3,font:3.8})
drawHeat({cells:fromRows(dByRow),columns:dColumns,genes:dGenes,tones:dTones,rowTree:dRowTree,colTree:dColTree,
  x0:523,x1:682,y0:1086,y1:1627.5,tip:520.7,rootX:389,stemBottom:1083,rootY:927,colLabelY:1074,colFont:8.5,
  labelX:682.7,classX:748,font:8.6})
drawHeat({cells:fromColumns(eByColumn),columns:eColumns,genes:eGenes.map((g,i) => g+' '+eClass[strip(eTones)[i]]),tones:eTones,rowTree:eRowTree,colTree:eColTree,
  x0:926,x1:1089,y0:1094,y1:1632.5,tip:924,rootX:787.7,stemBottom:1091,rootY:925,colLabelY:1072,colFont:8.5,
  labelX:1090.7,classX:1125,font:3.8})
drawHeat({cells:fromColumns(fByColumn),columns:fColumns,genes:fGenes,tones:fTones,rowTree:fRowTree,colTree:fColTree,
  x0:1309,x1:1470.7,y0:1076.3,y1:1632,tip:1305.6,rootX:1172,stemBottom:1073,rootY:920,colLabelY:1058,colFont:8.5,
  labelX:1471,classX:1537,font:8})
drawHeat({cells:fromRows(gByRow),columns:gColumns,genes:gGenes,tones:gTones,rowTree:gRowTree,colTree:gColTree,
  x0:1703.3,x1:1860.7,y0:1076.3,y1:1631.4,tip:1700,rootX:1570.7,stemBottom:1073,rootY:922,colLabelY:1058,colFont:8.5,
  labelX:1861.7,classX:1931,font:9.3})

// colour legend beside panel c
const legY = d3.scaleBand().domain(legendLevels).range([936.5,1059])
svg.selectAll('.leg').data(legendLevels).enter().append('rect').attr('x',56).attr('width',14.7)
  .attr('y',d => legY(d)).attr('height',legY.bandwidth()+0.3).attr('fill',d => heatColor(d))
legendText.forEach((t,i) => svg.append('text').attr('class','serif').attr('x',76).attr('font-size',12.5).attr('fill','#666')
  .attr('y',[950.5,1003,1056][i]).text(t))
</script>
</body>
</html>
